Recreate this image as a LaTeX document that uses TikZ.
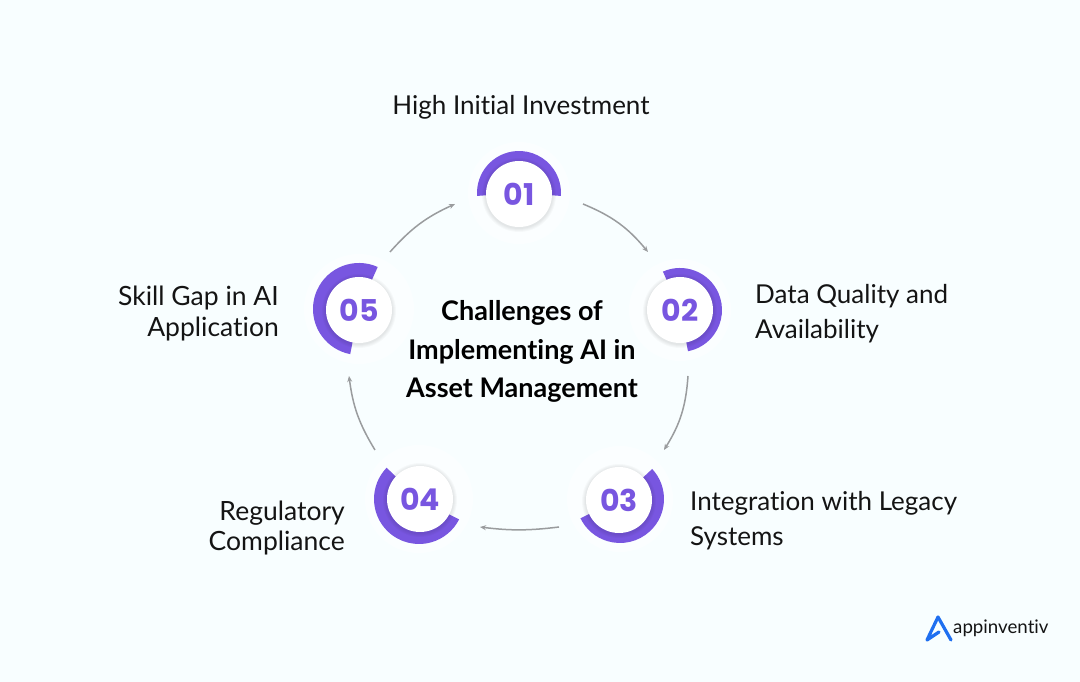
\documentclass[tikz,border=0pt]{standalone}
\usepackage{fontspec}
\setmainfont[Ligatures=NoCommon]{Lato}
\newfontfamily\numfont{Poppins}
\usetikzlibrary{arrows.meta}
\definecolor{bgc}{HTML}{F8FEFF}
\definecolor{ringc}{HTML}{7856E0}
\definecolor{arrc}{HTML}{9A9C9E}
\definecolor{inkc}{HTML}{141414}
\definecolor{logoc}{HTML}{1F6FF0}
\tikzset{
  numnode/.style={circle,fill=white,minimum size=66pt,inner sep=0pt,text=ringc,font=\numfont\bfseries\fontsize{30}{30}\selectfont},
  lab/.style={text=inkc,inner sep=0pt,font=\fontsize{26}{35}\selectfont},
  labtight/.style={text=inkc,inner sep=0pt,font=\fontsize{26.5}{30.5}\selectfont},
  titlenode/.style={text=black,inner sep=0pt,align=center,font=\bfseries\fontsize{27}{38.5}\selectfont},
  flow/.style={draw=arrc,line width=1.5pt,-{Stealth[length=6pt,width=5pt]}},
}
\newcommand{\ringpart}[6]{% cx cy router rinner a0 a1
  \fill[white,opacity=.45] (#1,#2) circle[radius=#3+9];
  \fill[ringc] ({#1+#3*cos(#5)},{#2+#3*sin(#5)}) arc[start angle=#5,end angle=#6,radius=#3]
     -- ({#1+#4*cos(#6)},{#2+#4*sin(#6)}) arc[start angle=#6,end angle=#5,radius=#4] -- cycle;
}
\newcommand{\softshadow}[2]{%
  \foreach \r in {34,35,36,37}{\fill[black,opacity=.025] (#1,#2-1) circle[radius=\r];}
}
\begin{document}
\begin{tikzpicture}[x=1pt,y=1pt]
\useasboundingbox (0,0) rectangle (1080,682);
\fill[bgc] (0,0) rectangle (1080,682);
% rings
\ringpart{519}{489}{42}{30}{184}{-4}
\ringpart{680}{372}{42}{30}{114}{-79}
\ringpart{620}{183}{44}{30}{43}{-154}
\ringpart{419}{183}{45}{30}{136}{333}
\ringpart{359}{373}{46}{30}{66}{259}
\softshadow{519}{488}
\softshadow{680}{372}
\softshadow{619}{182}
\softshadow{420}{183}
\softshadow{359}{372}
% numbered circles
\node[numnode] (n1) at (519,488) {01};
\node[numnode] (n2) at (680,372) {02};
\node[numnode] (n3) at (619,182) {03};
\node[numnode] (n4) at (420,183) {04};
\node[numnode] (n5) at (359,372) {05};
% connector ends
\coordinate (a1) at (583,478); \coordinate (b1) at (648,430);
\coordinate (a2) at (688,306); \coordinate (b2) at (664,232);
\coordinate (a3) at (559,155); \coordinate (b3) at (480,155);
\coordinate (a4) at (375,232); \coordinate (b4) at (349,306);
\coordinate (a5) at (390,430); \coordinate (b5) at (455,478);
\draw[flow] (a1) to[bend left=14] (b1);
\draw[flow] (a2) to[bend left=14] (b2);
\draw[flow] (a3) to[bend left=7] (b3);
\draw[flow] (a4) to[bend left=12] (b4);
\draw[flow] (a5) to[bend left=12] (b5);
% labels
\node[lab,anchor=center] (t1) at (521,575) {High Initial Investment};
\node[lab,anchor=west,align=left] (t2) at (755,368.5) {Data Quality and\\Availability};
\node[lab,anchor=west,align=left] (t3) at (690,161.5) {Integration with Legacy\\Systems};
\node[labtight,anchor=east,align=right] (t4) at (345,154) {Regulatory\\Compliance};
\node[labtight,anchor=east,align=right] (t5) at (279,368.5) {Skill Gap in AI\\Application};
\node[titlenode] (title) at (522,330.5) {Challenges of\\Implementing AI in\\Asset Management};
% logo
\draw[logoc,line width=3.2pt,line cap=round,line join=round] (951,42) -- (938,65) -- (927,42) -- (939,50);
\node[anchor=base west,inner sep=0pt,text=inkc,font=\fontsize{18.7}{18.7}\selectfont] (logo) at (953,48) {appinventiv};
\end{tikzpicture}
\end{document}
